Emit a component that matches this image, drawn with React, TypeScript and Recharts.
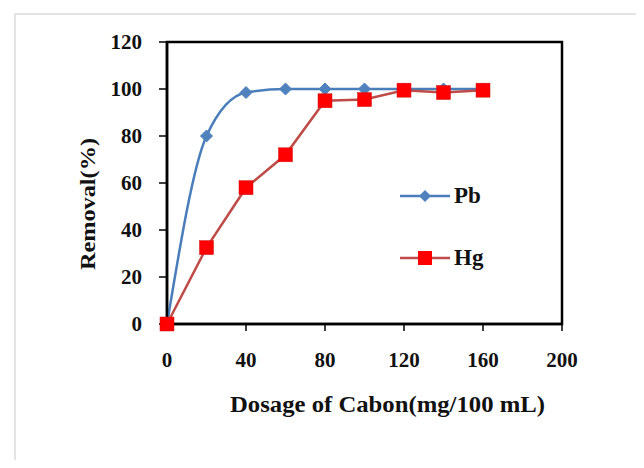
import { LineChart, Line, XAxis, YAxis, Legend, ReferenceArea } from 'recharts';

// dosage of carbon (mg/100 mL)
const dosage = [0, 20, 40, 60, 80, 100, 120, 140, 160];
// removal (%) per metal
const pbRemoval = [0, 80, 98.5, 100, 100, 100, 100, 100, 100];
const hgRemoval = [0, 32.5, 58, 72, 95, 95.5, 99.5, 98.5, 99.5];

const xTicks = [0, 40, 80, 120, 160, 200];
const yTicks = [0, 20, 40, 60, 80, 100, 120];

const PB_LINE = '#4a7ebb';
const PB_MARK = '#4f81bd';
const HG_LINE = '#be4b48';
const HG_MARK = '#ff0000';
const FONT = "'Liberation Serif', 'DejaVu Serif', 'Times New Roman', serif";

const data = dosage.map((d, i) => ({ dosage: d, pb: pbRemoval[i], hg: hgRemoval[i] }));

const Diamond = (props: any) => {
  const { cx, cy } = props;
  if (cx == null || cy == null) return null;
  return <path d={`M${cx},${cy - 6}L${cx + 6},${cy}L${cx},${cy + 6}L${cx - 6},${cy}Z`} fill={PB_MARK} stroke={PB_MARK} />;
};

const Square = (props: any) => {
  const { cx, cy } = props;
  if (cx == null || cy == null) return null;
  return <rect x={cx - 7} y={cy - 7} width={14} height={14} fill={HG_MARK} stroke="#d01010" strokeWidth={0.5} />;
};

function LegendBox() {
  const row = (name: string, color: string, mark: 'd' | 's') => (
    <div style={{ display: 'flex', alignItems: 'center', height: 26 }}>
      <svg width={52} height={20}>
        <line x1={0} y1={10} x2={50} y2={10} stroke={color} strokeWidth={2.5} />
        {mark === 'd'
          ? <path d="M25,4L31,10L25,16L19,10Z" fill={PB_MARK} />
          : <rect x={18} y={3} width={14} height={14} fill={HG_MARK} />}
      </svg>
      <span style={{ fontFamily: FONT, fontWeight: 'bold', fontSize: 23, color: '#111', marginLeft: 2 }}>{name}</span>
    </div>
  );
  return (
    <div>
      {row('Pb', PB_LINE, 'd')}
      <div style={{ height: 36 }} />
      {row('Hg', HG_LINE, 's')}
    </div>
  );
}

export default function App() {
  return (
    <div style={{ position: 'relative', width: 644, height: 468, margin: -8, background: '#fff', overflow: 'hidden' }}>
      <div style={{ position: 'absolute', left: 14, top: 13, right: -4, bottom: -4, borderLeft: '2px solid #e4e4e4', borderTop: '2px solid #e4e4e4' }} />
      <div style={{ position: 'absolute', left: 0, top: 0 }}>
        <LineChart width={644} height={468} data={data} margin={{ top: 42, right: 82, bottom: 84, left: 107 }}>
          <XAxis
            dataKey="dosage"
            type="number"
            domain={[0, 200]}
            ticks={xTicks}
            height={60}
            axisLine={{ stroke: '#000', strokeWidth: 2.5 }}
            tickLine={{ stroke: '#000', strokeWidth: 1.5 }}
            tickSize={7}
            tickMargin={21}
            tick={{ fontSize: 21, fontFamily: FONT, fontWeight: 'bold', fill: '#111' }}
            label={{
              content: (p: any) => {
                const vb = p.viewBox;
                return (
                  <text x={vb.x + vb.width / 2 + 23} y={412} textAnchor="middle" fontFamily={FONT} fontWeight="bold" fontSize={23} fill="#111" textLength={315} lengthAdjust="spacingAndGlyphs">
                    Dosage of Cabon(mg/100 mL)
                  </text>
                );
              },
            }}
          />
          <YAxis
            type="number"
            domain={[0, 120]}
            ticks={yTicks}
            width={60}
            axisLine={{ stroke: '#000', strokeWidth: 2.5 }}
            tickLine={{ stroke: '#000', strokeWidth: 1.5 }}
            tickSize={8}
            tickMargin={17}
            tick={{ fontSize: 21, fontFamily: FONT, fontWeight: 'bold', fill: '#111' }}
            label={{
              content: () => (
                <text transform="translate(95,204) rotate(-90)" textAnchor="middle" fontFamily={FONT} fontWeight="bold" fontSize={22} fill="#111" textLength={132} lengthAdjust="spacingAndGlyphs">
                  Removal(%)
                </text>
              ),
            }}
          />
          <ReferenceArea x1={0} x2={200} y1={0} y2={120} fill="none" stroke="#000" strokeWidth={2.5} />
          <Legend layout="horizontal" verticalAlign="middle" align="center" content={() => <LegendBox />} wrapperStyle={{ position: 'absolute', left: 400, top: 183, width: 'auto' }} />
          <Line type="monotone" dataKey="pb" name="Pb" stroke={PB_LINE} strokeWidth={2.5} dot={<Diamond />} activeDot={false} isAnimationActive={false} />
          <Line type="linear" dataKey="hg" name="Hg" stroke={HG_LINE} strokeWidth={2.5} dot={<Square />} activeDot={false} isAnimationActive={false} />
        </LineChart>
      </div>
    </div>
  );
}
